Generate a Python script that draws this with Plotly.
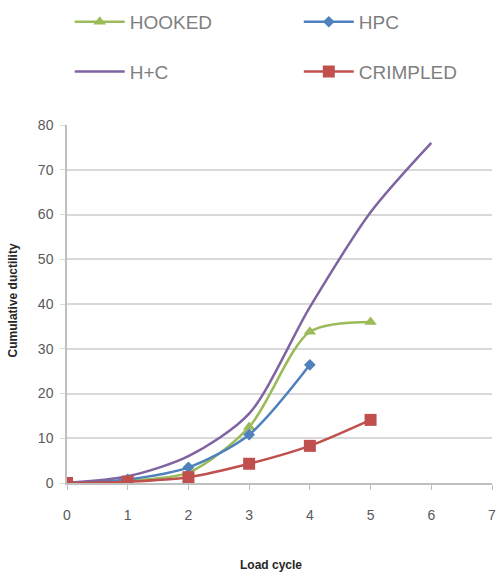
import plotly.graph_objects as go

# Load cycles and cumulative ductility for each specimen type
cycles_hooked = [0, 1, 2, 3, 4, 5]
hooked = [0, 0.5, 2.3, 12.5, 33.8, 36.0]

cycles_hpc = [0, 1, 2, 3, 4]
hpc = [0, 0.8, 3.5, 10.8, 26.4]

cycles_hc = [0, 1, 2, 3, 4, 5, 6]
h_plus_c = [0, 1.5, 6.0, 15.5, 39.3, 60.5, 76.0]

cycles_crimpled = [0, 1, 2, 3, 4, 5]
crimpled = [0, 0.3, 1.3, 4.3, 8.3, 14.1]

x_ticks = [0, 1, 2, 3, 4, 5, 6, 7]
y_ticks = [0, 10, 20, 30, 40, 50, 60, 70, 80]

fig = go.Figure()

# left legend column: HOOKED / H+C, right column: HPC / CRIMPLED
fig.add_trace(go.Scatter(
    x=cycles_hooked, y=hooked, name="HOOKED", mode="lines+markers",
    legend="legend", legendgroup="g1",
    line=dict(color="#9BBB59", width=2.5, shape="spline", smoothing=0.8),
    marker=dict(symbol="triangle-up", size=11, color="#9BBB59"),
))
fig.add_trace(go.Scatter(
    x=cycles_hpc, y=hpc, name="HPC", mode="lines+markers",
    legend="legend2", legendgroup="g2",
    line=dict(color="#4F81BD", width=2.5, shape="spline", smoothing=0.8),
    marker=dict(symbol="diamond", size=9, color="#4F81BD"),
))
fig.add_trace(go.Scatter(
    x=cycles_hc, y=h_plus_c, name="H+C", mode="lines",
    legend="legend", legendgroup="g3",
    line=dict(color="#8064A2", width=2.5, shape="spline", smoothing=0.8),
))
fig.add_trace(go.Scatter(
    x=cycles_crimpled, y=crimpled, name="CRIMPLED", mode="lines+markers",
    legend="legend2", legendgroup="g4",
    line=dict(color="#C0504D", width=2.5, shape="spline", smoothing=0.8),
    marker=dict(symbol="square", size=12, color="#C0504D"),
))

legend_style = dict(
    orientation="v", xref="container", yref="container",
    y=0.995, xanchor="left", yanchor="top",
    font=dict(size=19, color="#7f7f7f"),
    itemwidth=50, tracegroupgap=22, bgcolor="rgba(0,0,0,0)",
)

fig.update_layout(
    width=498, height=576,
    margin=dict(l=67, r=6, t=125, b=93, autoexpand=False),
    paper_bgcolor="white", plot_bgcolor="white",
    font=dict(family="Liberation Sans, Arial, sans-serif", color="#595959"),
    legend=dict(x=0.14, **legend_style),
    legend2=dict(x=0.600, **legend_style),
    xaxis=dict(
        range=[0, 7], tickvals=x_ticks, showgrid=False,
        showline=True, linecolor="#bfbfbf", linewidth=1.5,
        ticks="outside", ticklen=5, tickcolor="#bfbfbf",
        ticklabelstandoff=13,
        tickfont=dict(size=14, color="#595959"),
        zeroline=False,
    ),
    yaxis=dict(
        range=[0, 80], tickvals=y_ticks, showgrid=True, gridcolor="#d9d9d9", gridwidth=1.5,
        showline=True, linecolor="#bfbfbf", linewidth=1.5,
        ticks="outside", ticklen=5, tickcolor="#d9d9d9",
        ticklabelstandoff=4,
        tickfont=dict(size=14, color="#595959"),
        zeroline=False,
    ),
    annotations=[
        dict(text="<b>Load cycle</b>", xref="paper", yref="paper",
             x=0.48, y=-0.229, xanchor="center", yanchor="middle",
             showarrow=False, font=dict(size=12, color="#262626")),
        dict(text="<b>Cumulative ductility</b>", xref="paper", yref="paper",
             x=-0.127, y=0.51, xanchor="center", yanchor="middle", textangle=-90,
             showarrow=False, font=dict(size=12, color="#262626")),
    ],
)

fig.write_html("out.html")
